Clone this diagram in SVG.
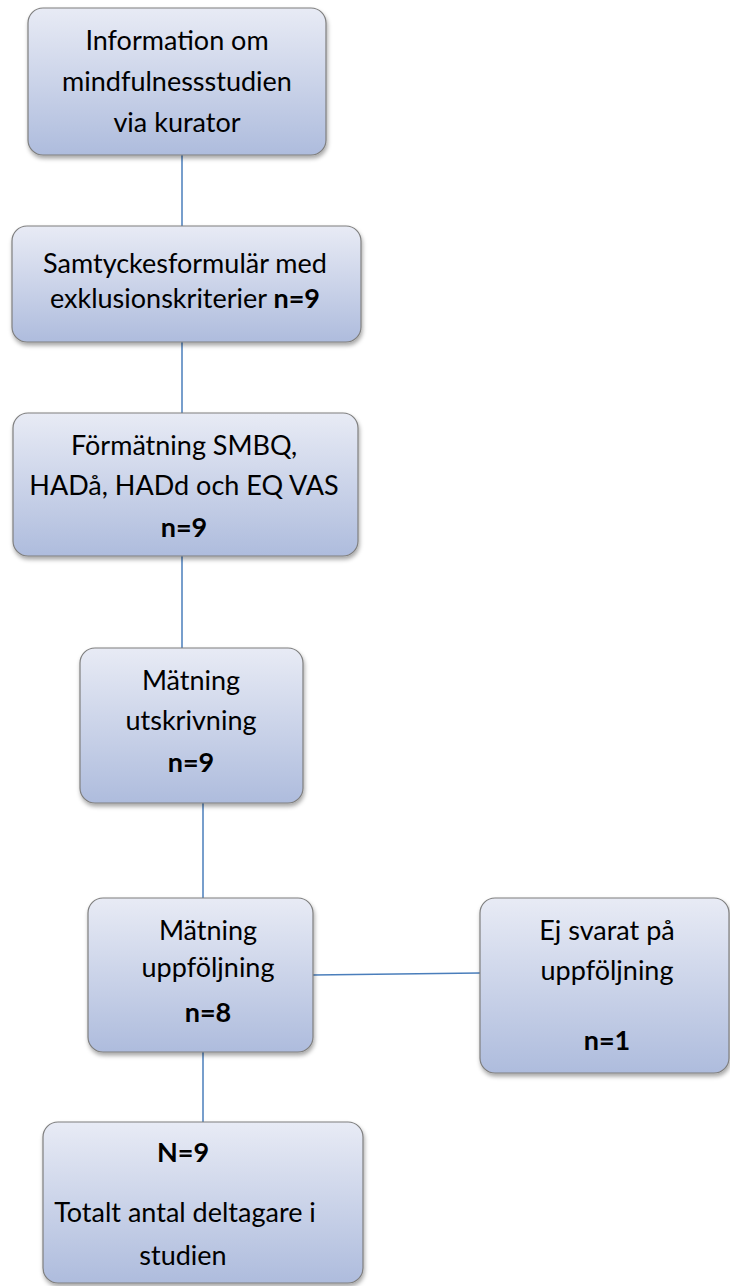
<svg xmlns="http://www.w3.org/2000/svg" width="730" height="1286" viewBox="0 0 730 1286">
<defs>
<linearGradient id="g" x1="0" y1="0" x2="0" y2="1">
<stop offset="0" stop-color="#e8ebf5"/>
<stop offset="1" stop-color="#aebcdd"/>
</linearGradient>
<filter id="sh" x="-10%" y="-10%" width="120%" height="130%">
<feDropShadow dx="1" dy="3" stdDeviation="2" flood-color="#000" flood-opacity="0.35"/>
</filter>
</defs>
<style>
.box{fill:url(#g);stroke:#7f7f7f;stroke-width:1.2;filter:url(#sh)}
.t{font-family:Lato,"Open Sans","Liberation Sans",sans-serif;font-size:27px;fill:#000;text-anchor:middle}
.b{font-weight:bold}
.c{stroke:#4a7ebb;stroke-width:1.5;fill:none}
</style>
<g id="connectors">
<line class="c" x1="182" y1="155" x2="182" y2="226"/>
<line class="c" x1="182" y1="342" x2="182" y2="413"/>
<line class="c" x1="182" y1="556" x2="182" y2="648"/>
<line class="c" x1="203" y1="803" x2="203" y2="898"/>
<line class="c" x1="313" y1="975" x2="480" y2="973"/>
<line class="c" x1="203" y1="1052" x2="203" y2="1122"/>
</g>
<g id="n1">
<rect class="box" x="28" y="8" width="298" height="147" rx="15"/>
<text class="t" x="177" y="50">Information om</text>
<text class="t" x="177" y="91">mindfulnessstudien</text>
<text class="t" x="177" y="132">via kurator</text>
</g>
<g id="n2">
<rect class="box" x="12" y="226" width="349" height="116" rx="15"/>
<text class="t" x="185" y="273">Samtyckesformulär med</text>
<text class="t" x="185" y="308">exklusionskriterier <tspan class="b">n=9</tspan></text>
</g>
<g id="n3">
<rect class="box" x="13" y="413" width="345" height="143" rx="15"/>
<text class="t" x="184" y="455">Förmätning SMBQ,</text>
<text class="t" x="184" y="495">HADå, HADd och EQ VAS</text>
<text class="t b" x="184" y="537">n=9</text>
</g>
<g id="n4">
<rect class="box" x="80" y="648" width="223" height="155" rx="15"/>
<text class="t" x="191" y="690">Mätning</text>
<text class="t" x="191" y="730">utskrivning</text>
<text class="t b" x="191" y="772">n=9</text>
</g>
<g id="n5">
<rect class="box" x="88" y="898" width="225" height="154" rx="15"/>
<text class="t" x="208" y="940">Mätning</text>
<text class="t" x="208" y="977">uppföljning</text>
<text class="t b" x="208" y="1022">n=8</text>
</g>
<g id="n6">
<rect class="box" x="480" y="898" width="249" height="175" rx="15"/>
<text class="t" x="607" y="940">Ej svarat på</text>
<text class="t" x="607" y="980">uppföljning</text>
<text class="t b" x="607" y="1050">n=1</text>
</g>
<g id="n7">
<rect class="box" x="43" y="1122" width="320" height="161" rx="15"/>
<text class="t b" x="183" y="1162">N=9</text>
<text class="t" x="185" y="1222">Totalt antal deltagare i</text>
<text class="t" x="183" y="1265">studien</text>
</g>
</svg>
